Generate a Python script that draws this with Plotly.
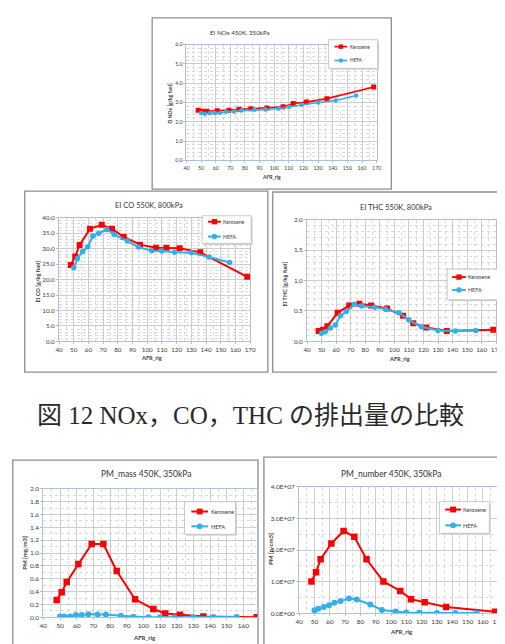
import plotly.graph_objects as go

W, H = 505, 644

# ---------------- data ----------------
kero_afr = [48, 51, 54, 61, 69, 76, 84, 95, 106, 113, 122, 136, 168]
hefa_afr = [50, 52.5, 56, 59.5, 63, 67, 72.5, 77.5, 86.5, 94, 103, 110, 118.5, 130, 142, 156]

nox_kero = [2.60, 2.55, 2.55, 2.57, 2.60, 2.65, 2.68, 2.72, 2.78, 2.95, 3.02, 3.20, 3.80]
nox_hefa = [2.45, 2.42, 2.44, 2.45, 2.47, 2.52, 2.54, 2.59, 2.62, 2.64, 2.69, 2.78, 2.88, 3.00, 3.10, 3.36]

co_kero = [24.7, 27.5, 31.2, 36.4, 37.7, 36.4, 33.8, 31.3, 30.3, 30.3, 30.1, 28.8, 20.9]
co_hefa = [23.8, 26.8, 29.1, 30.6, 34.1, 35.0, 36.2, 34.6, 32.5, 30.5, 29.3, 29.2, 28.8, 28.7, 27.3, 25.5]

thc_kero = [0.17, 0.19, 0.25, 0.47, 0.59, 0.62, 0.59, 0.54, 0.42, 0.30, 0.23, 0.17, 0.19]
thc_hefa = [0.135, 0.16, 0.22, 0.27, 0.42, 0.49, 0.61, 0.58, 0.56, 0.53, 0.47, 0.35, 0.24, 0.18, 0.17, 0.18]

pm_mass_kero = [0.27, 0.39, 0.55, 0.83, 1.14, 1.14, 0.72, 0.28, 0.13, 0.06, 0.04, 0.015, 0.0]
pm_mass_hefa = [0.015, 0.015, 0.015, 0.035, 0.035, 0.05, 0.046, 0.046, 0.026, 0.01, 0.0, 0.0, 0.0, 0.0, 0.005, 0.005]

pm_num_kero = [1.01e7, 1.30e7, 1.71e7, 2.21e7, 2.60e7, 2.42e7, 1.71e7, 1.01e7, 0.71e7, 0.45e7, 0.35e7, 0.20e7, 0.05e7]
pm_num_hefa = [0.10e7, 0.15e7, 0.20e7, 0.26e7, 0.34e7, 0.39e7, 0.47e7, 0.44e7, 0.28e7, 0.11e7, 0.06e7, 0.03e7, 0.02e7, 0.01e7, 0.01e7, 0.01e7]

series_names = ["Kerosene", "HEFA"]
chart_titles = ["EI NOx 450K, 350kPa", "EI CO 550K, 800kPa", "EI THC 550K, 800kPa",
                "PM_mass 450K, 350kPa", "PM_number 450K, 350kPa"]
y_titles = ["EI NOx [g/kg fuel]", "EI CO [g/kg fuel]", "EI THC [g/kg fuel]",
            "PM [mg/m3]", "PM [p/cm3]"]
x_title = "AFR_rig"
x_ticks_full = [40, 50, 60, 70, 80, 90, 100, 110, 120, 130, 140, 150, 160, 170]
x_ticks_pm_mass = [40, 50, 60, 70, 80, 90, 100, 110, 120, 130, 140, 150, 160]
pm_num_tickvals = [0, 1e7, 2e7, 3e7, 4e7]
pm_num_ticktext = ["0.0E+00", "1.0E+07", "2.0E+07", "3.0E+07", "4.0E+07"]
caption = "図 12 NOx，CO，THC の排出量の比較"

# ---------------- styling ----------------
RED = "#FF0000"
BLUE = "#33B0E8"
AXLINE = "#A9C2E2"
GRID = "#CDCDCD"
MINOR = "#DADADA"
FONT = "Lato, 'Open Sans', sans-serif"
TXT = "#3A3A3A"


def px(xp):
    return xp / W


def py(yp):
    return 1 - yp / H


panels = [
    dict(kero=nox_kero, hefa=nox_hefa, xl=178, xr=372, yt=33, yb=150, xr_rng=[40, 170],
         yrng=[0, 6], ydt=1, ymin=0.2, fmt=".1f", xticks=x_ticks_full,
         box=(143, 6, 387, 179), title_xy=(233, 21), xlab_xy=(265, 167), ylab_xy=(161, 92),
         leg_box=(323, 28, 373, 57), leg_line=(329, 342), leg_rows=(35, 49),
         fs=dict(title=6.2, tick=5.2, lab=5, leg=4.8), lw=1.6, ms=5),
    dict(kero=co_kero, hefa=co_hefa, xl=48, xr=243, yt=208, yb=333, xr_rng=[40, 170],
         yrng=[0, 40], ydt=5, ymin=1, fmt=".1f", xticks=x_ticks_full,
         box=(13, 181, 261, 364), title_xy=(140, 196), xlab_xy=(142, 349), ylab_xy=(26, 272),
         leg_box=(194, 206, 244, 234), leg_line=(200, 213), leg_rows=(212, 227),
         fs=dict(title=7.5, tick=6.3, lab=5.6, leg=5.2), lw=2, ms=6),
    dict(kero=thc_kero, hefa=thc_hefa, xl=301, xr=494, yt=210, yb=333, xr_rng=[40, 170],
         yrng=[0, 2], ydt=0.5, ymin=0.1, fmt=".1f", xticks=x_ticks_full,
         box=(266, 182, 504, 364), title_xy=(392, 198), xlab_xy=(395, 350), ylab_xy=(278, 275),
         leg_box=(444, 260, 499, 291), leg_line=(449, 463), leg_rows=(268, 281),
         fs=dict(title=7.5, tick=6.3, lab=5.6, leg=5.4), lw=2, ms=6),
    dict(kero=pm_mass_kero, hefa=pm_mass_hefa, xl=32, xr=250.5, yt=482, yb=612, xr_rng=[40, 168.5],
         yrng=[0, 2], ydt=0.2, ymin=0.1, fmt=".1f", xticks=x_ticks_pm_mass,
         box=(0.8, 453, 251, 643), title_xy=(137, 467), xlab_xy=(135, 632), ylab_xy=(12, 547),
         leg_box=(176, 495, 228, 528), leg_line=(183, 200), leg_rows=(505, 520),
         fs=dict(title=8.5, tick=6.5, lab=6, leg=5.6), lw=2, ms=6.5),
    dict(kero=pm_num_kero, hefa=pm_num_hefa, xl=293, xr=496, yt=480, yb=608, xr_rng=[40, 170],
         yrng=[0, 4e7], ydt=1e7, ymin=0.5e7, fmt=None, xticks=x_ticks_full,
         box=(257, 450, 501, 640), title_xy=(387, 467), xlab_xy=(397, 626), ylab_xy=(263, 543),
         leg_box=(436, 495, 487, 527), leg_line=(442, 458), leg_rows=(503, 519),
         fs=dict(title=8.5, tick=6.5, lab=6, leg=5.6), lw=2, ms=6.5),
]

fig = go.Figure()
layout = dict(width=W, height=H, margin=dict(l=0, r=0, t=0, b=0),
              paper_bgcolor="white", plot_bgcolor="white", showlegend=False,
              font=dict(family=FONT, color=TXT))
shapes = []
annotations = []
colors = [RED, BLUE]

for i, p in enumerate(panels):
    n = "" if i == 0 else str(i + 1)
    xa, ya = "x" + n, "y" + n
    fs = p["fs"]
    fig.add_trace(go.Scatter(x=kero_afr, y=p["kero"], name=series_names[0], xaxis=xa, yaxis=ya,
                             mode="lines+markers",
                             line=dict(color=RED, width=p["lw"]),
                             marker=dict(symbol="square", size=p["ms"], color=RED)))
    fig.add_trace(go.Scatter(x=hefa_afr, y=p["hefa"], name=series_names[1], xaxis=xa, yaxis=ya,
                             mode="lines+markers",
                             line=dict(color=BLUE, width=p["lw"]),
                             marker=dict(symbol="circle", size=p["ms"] - 0.5, color=BLUE)))
    xaxis = dict(domain=[px(p["xl"]), px(p["xr"])], range=p["xr_rng"], anchor=ya,
                 tickvals=p["xticks"], showline=True, linecolor=AXLINE, linewidth=1, mirror=True,
                 ticks="outside", ticklen=2, tickcolor=AXLINE,
                 showgrid=True, gridcolor=GRID, gridwidth=0.6, zeroline=False,
                 tickfont=dict(size=fs["tick"], color=TXT, family=FONT),
                 minor=dict(dtick=5, tick0=40, showgrid=True, gridcolor=MINOR, griddash="dot",
                            gridwidth=0.5))
    yaxis = dict(domain=[py(p["yb"]), py(p["yt"])], range=p["yrng"], anchor=xa,
                 dtick=p["ydt"], tick0=0, showline=True, linecolor=AXLINE, linewidth=1, mirror=True,
                 ticks="outside", ticklen=2, tickcolor=AXLINE,
                 showgrid=True, gridcolor=GRID, gridwidth=0.6, zeroline=False,
                 tickfont=dict(size=fs["tick"], color=TXT, family=FONT),
                 minor=dict(dtick=p["ymin"], tick0=0, showgrid=True, gridcolor=MINOR,
                            griddash="dot", gridwidth=0.5))
    if p["fmt"]:
        yaxis["tickformat"] = p["fmt"]
    else:
        yaxis["tickvals"] = pm_num_tickvals
        yaxis["ticktext"] = pm_num_ticktext
        yaxis.pop("dtick")
    layout["xaxis" + n] = xaxis
    layout["yaxis" + n] = yaxis

    # panel frame
    bx0, by0, bx1, by1 = p["box"]
    shapes.append(dict(type="rect", xref="paper", yref="paper", x0=px(bx0), x1=px(bx1),
                       y0=py(by1), y1=py(by0), line=dict(color="#8E8E8E", width=1.3),
                       layer="below"))

    # legend box (Excel-style, with light shadow)
    lx0, ly0, lx1, ly1 = p["leg_box"]
    shapes.append(dict(type="rect", xref="paper", yref="paper", x0=px(lx0 + 1.5), x1=px(lx1 + 1.5),
                       y0=py(ly1 + 1.5), y1=py(ly0 + 1.5), line=dict(width=0),
                       fillcolor="#D4D4D4", layer="above"))
    shapes.append(dict(type="rect", xref="paper", yref="paper", x0=px(lx0), x1=px(lx1),
                       y0=py(ly1), y1=py(ly0), line=dict(color="#BDBDBD", width=0.8),
                       fillcolor="white", layer="above"))
    kx0, kx1 = p["leg_line"]
    kxm = (kx0 + kx1) / 2
    r = p["ms"] / 2 - 0.3
    for j, ry in enumerate(p["leg_rows"]):
        shapes.append(dict(type="line", xref="paper", yref="paper", x0=px(kx0), x1=px(kx1),
                           y0=py(ry), y1=py(ry), line=dict(color=colors[j], width=p["lw"]),
                           layer="above"))
        shapes.append(dict(type="rect" if j == 0 else "circle", xref="paper", yref="paper",
                           x0=px(kxm - r), x1=px(kxm + r), y0=py(ry + r), y1=py(ry - r),
                           line=dict(width=0), fillcolor=colors[j], layer="above"))
        annotations.append(dict(text=series_names[j], x=px(kx1 + 0.5), y=py(ry), xref="paper",
                                yref="paper", showarrow=False, xanchor="left", yanchor="middle",
                                font=dict(size=fs["leg"], color=TXT, family=FONT)))

    # chart title
    annotations.append(dict(text=chart_titles[i], x=px(p["title_xy"][0]), y=py(p["title_xy"][1]),
                            xref="paper", yref="paper", showarrow=False, xanchor="center",
                            yanchor="middle", font=dict(size=fs["title"], color="#333333", family=FONT)))
    annotations.append(dict(text="<b>" + x_title + "</b>", x=px(p["xlab_xy"][0]), y=py(p["xlab_xy"][1]),
                            xref="paper", yref="paper", showarrow=False, xanchor="center",
                            yanchor="middle", font=dict(size=fs["lab"], color=TXT, family=FONT)))
    annotations.append(dict(text="<b>" + y_titles[i] + "</b>", x=px(p["ylab_xy"][0]), y=py(p["ylab_xy"][1]),
                            xref="paper", yref="paper", showarrow=False, xanchor="center",
                            yanchor="middle", textangle=-90,
                            font=dict(size=fs["lab"], color=TXT, family=FONT)))

# caption
annotations.append(dict(text=caption, x=px(243.5), y=py(408), xref="paper", yref="paper",
                        showarrow=False, xanchor="center", yanchor="middle",
                        font=dict(size=25, color="#2A2A2A",
                                  family="'Liberation Serif', 'Noto Sans CJK JP', serif")))

layout["shapes"] = shapes
layout["annotations"] = annotations
fig.update_layout(**layout)
fig.write_html("out.html")
